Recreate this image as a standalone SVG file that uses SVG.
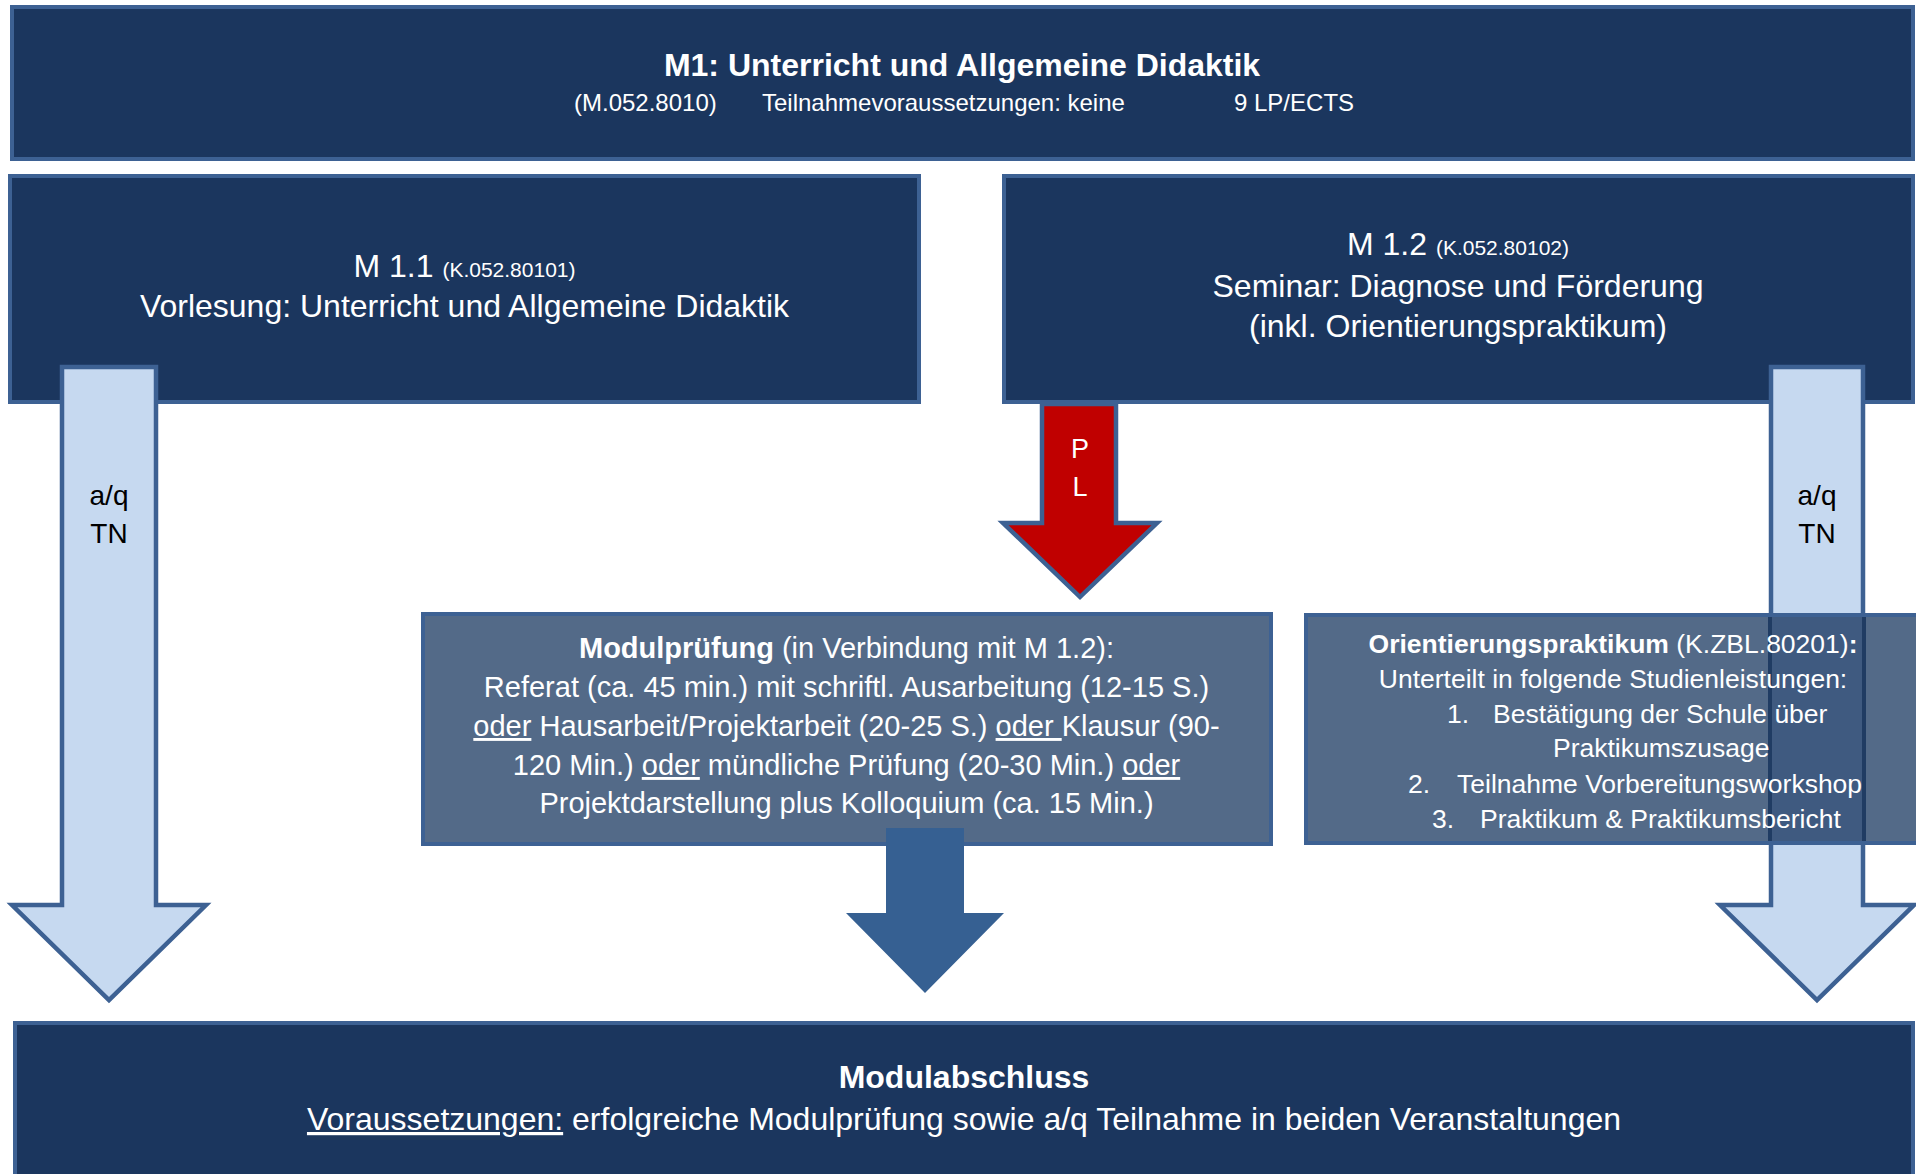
<svg xmlns="http://www.w3.org/2000/svg" width="1916" height="1174" viewBox="0 0 1916 1174">
<style>
text{font-family:"Liberation Sans",Arial,sans-serif;fill:#ffffff}
.dark{fill:#1b365e;stroke:#3d6193;stroke-width:4}
.mid{fill:#536a88;stroke:#3d6193;stroke-width:4}
.la{fill:#c6d9f0;stroke:#3d6193;stroke-width:4.5;stroke-linejoin:miter}
.b{font-weight:bold}
.u{text-decoration:underline}
.blk{fill:#000000}
</style>
<rect width="1916" height="1174" fill="#ffffff"/>
<g id="m1">
<rect class="dark" x="12" y="7" width="1901" height="152"/>
<text x="962" y="76" font-size="32" class="b" text-anchor="middle">M1: Unterricht und Allgemeine Didaktik</text>
<text x="574" y="111" font-size="24">(M.052.8010)</text>
<text x="762" y="111" font-size="24">Teilnahmevoraussetzungen: keine</text>
<text x="1234" y="111" font-size="24">9 LP/ECTS</text>
</g>
<g id="m11">
<rect class="dark" x="10" y="176" width="909" height="226"/>
<text x="464.5" y="277" font-size="32" text-anchor="middle">M 1.1 <tspan font-size="21">(K.052.80101)</tspan></text>
<text x="464.5" y="317" font-size="32" text-anchor="middle">Vorlesung: Unterricht und Allgemeine Didaktik</text>
</g>
<g id="m12">
<rect class="dark" x="1004" y="176" width="909" height="226"/>
<text x="1458" y="255" font-size="32" text-anchor="middle">M 1.2 <tspan font-size="21">(K.052.80102)</tspan></text>
<text x="1458" y="297" font-size="32" text-anchor="middle">Seminar: Diagnose und Förderung</text>
<text x="1458" y="337" font-size="32" text-anchor="middle">(inkl. Orientierungspraktikum)</text>
</g>
<g id="connectors">
<g id="arrow-left">
<path class="la" d="M62,367 H156 V905 H206 L109,1000 L12,905 H62 Z"/>
<text x="109" y="505" font-size="28" class="blk" text-anchor="middle">a/q</text>
<text x="109" y="543" font-size="28" class="blk" text-anchor="middle">TN</text>
</g>
<g id="arrow-right">
<path class="la" d="M1771,367 H1863 V905 H1914 L1817,1000 L1720,905 H1771 Z"/>
<text x="1817" y="505" font-size="28" class="blk" text-anchor="middle">a/q</text>
<text x="1817" y="543" font-size="28" class="blk" text-anchor="middle">TN</text>
</g>
<g id="arrow-pl">
<path d="M1042,404 H1116 V523 H1157 L1080,597 L1003,523 H1042 Z" fill="#c00000" stroke="#3d6193" stroke-width="4.5"/>
<text x="1080" y="458" font-size="27" text-anchor="middle">P</text>
<text x="1080" y="496" font-size="27" text-anchor="middle">L</text>
</g>
</g>
<g id="modulpruefung">
<rect class="mid" x="423" y="614" width="848" height="230"/>
<text x="846.5" y="658" font-size="29" text-anchor="middle"><tspan class="b">Modulprüfung</tspan> (in Verbindung mit M 1.2):</text>
<text x="846.5" y="697" font-size="29" text-anchor="middle">Referat (ca. 45 min.) mit schriftl. Ausarbeitung (12-15 S.)</text>
<text x="846.5" y="736" font-size="29" text-anchor="middle"><tspan class="u">oder</tspan> Hausarbeit/Projektarbeit (20-25 S.) <tspan class="u">oder </tspan>Klausur (90-</text>
<text x="846.5" y="775" font-size="29" text-anchor="middle">120 Min.) <tspan class="u">oder</tspan> mündliche Prüfung (20-30 Min.) <tspan class="u">oder</tspan></text>
<text x="846.5" y="813" font-size="29" text-anchor="middle">Projektdarstellung plus Kolloquium (ca. 15 Min.)</text>
</g>
<g id="arrow-mid">
<path d="M886,828 H964 V913 H1004 L925,993 L846,913 H886 Z" fill="#366092"/>
</g>
<g id="orientierung">
<rect class="mid" x="1306" y="615" width="620" height="228"/>
<rect x="1770" y="617" width="94" height="224" fill="#3f5a80"/>
<line x1="1770" y1="617" x2="1770" y2="841" stroke="#203c63" stroke-width="4"/>
<line x1="1864" y1="617" x2="1864" y2="841" stroke="#203c63" stroke-width="4"/>
<text x="1613" y="653" font-size="26.5" text-anchor="middle"><tspan class="b">Orientierungspraktikum</tspan> (K.ZBL.80201)<tspan class="b">:</tspan></text>
<text x="1613" y="688" font-size="26.5" text-anchor="middle">Unterteilt in folgende Studienleistungen:</text>
<text x="1447" y="723" font-size="26.5">1.</text>
<text x="1493" y="723" font-size="26.5">Bestätigung der Schule über</text>
<text x="1553" y="757" font-size="26.5">Praktikumszusage</text>
<text x="1408" y="793" font-size="26.5">2.</text>
<text x="1457" y="793" font-size="26.5">Teilnahme Vorbereitungsworkshop</text>
<text x="1432" y="828" font-size="26.5">3.</text>
<text x="1480" y="828" font-size="26.5">Praktikum &amp; Praktikumsbericht</text>
</g>
<g id="modulabschluss">
<rect class="dark" x="15" y="1023" width="1898" height="160"/>
<text x="964" y="1088" font-size="32" class="b" text-anchor="middle">Modulabschluss</text>
<text x="964" y="1130" font-size="32" text-anchor="middle"><tspan class="u">Voraussetzungen:</tspan> erfolgreiche Modulprüfung sowie a/q Teilnahme in beiden Veranstaltungen</text>
</g>
</svg>
